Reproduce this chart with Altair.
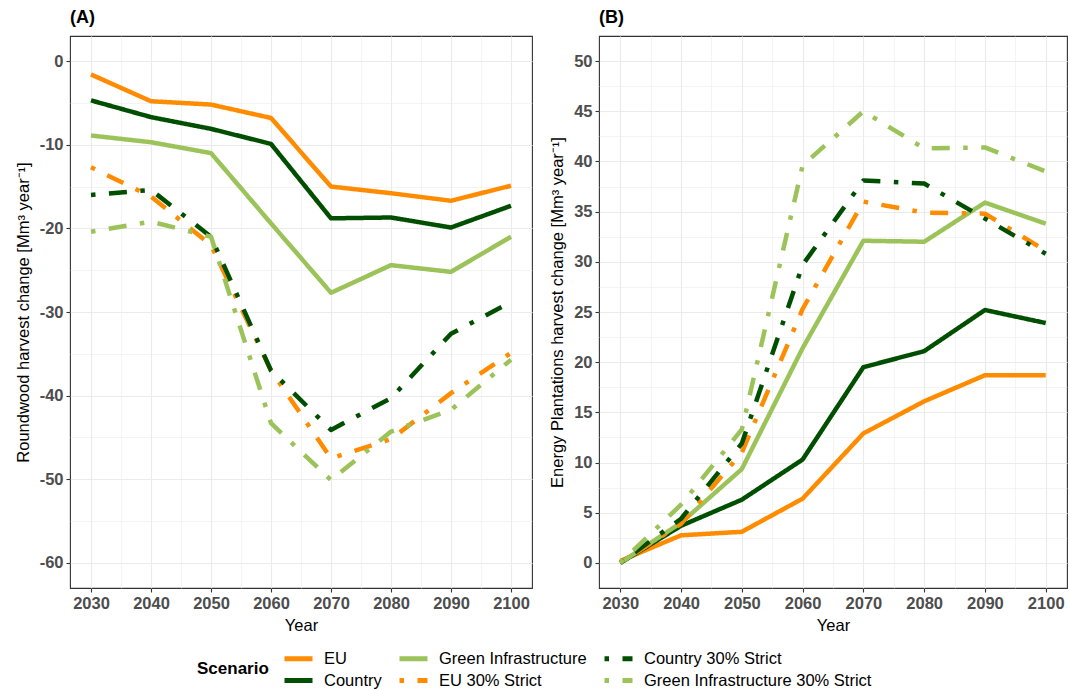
import altair as alt
import pandas as pd

years = [2030, 2040, 2050, 2060, 2070, 2080, 2090, 2100]

scenarios = ["EU", "Country", "Green Infrastructure",
             "EU 30% Strict", "Country 30% Strict", "Green Infrastructure 30% Strict"]

# Panel A: Roundwood harvest change
rw_eu = [-1.6, -4.8, -5.2, -6.8, -15.0, -15.8, -16.7, -14.9]
rw_country = [-4.7, -6.7, -8.1, -9.9, -18.8, -18.7, -19.9, -17.3]
rw_gi = [-8.9, -9.7, -11.0, -19.4, -27.7, -24.4, -25.2, -21.0]
rw_eu_strict = [-12.7, -16.2, -22.0, -37.0, -47.5, -45.2, -39.7, -34.9]
rw_country_strict = [-16.0, -15.4, -21.0, -37.0, -44.1, -40.3, -32.6, -28.8]
rw_gi_strict = [-20.4, -19.2, -21.0, -43.3, -50.1, -44.3, -41.7, -35.7]

# Panel B: Energy plantations harvest change
ep_eu = [0.2, 2.75, 3.1, 6.4, 12.9, 16.1, 18.7, 18.7]
ep_country = [0.0, 3.7, 6.3, 10.3, 19.5, 21.1, 25.2, 23.9]
ep_gi = [0.0, 4.0, 9.35, 21.4, 32.1, 32.0, 35.9, 33.8]
ep_eu_strict = [0.0, 3.9, 11.0, 25.3, 36.0, 34.9, 34.8, 31.1]
ep_country_strict = [0.0, 4.4, 11.9, 29.7, 38.1, 37.8, 34.3, 30.8]
ep_gi_strict = [0.0, 5.8, 13.3, 39.6, 45.0, 41.3, 41.4, 39.0]

colors = ["#FF8C00", "#004F00", "#9BC35A", "#FF8C00", "#004F00", "#9BC35A"]
solid = [1, 0]
dotdash = [4.5, 13.5, 18, 13.5]
dashes = [solid, solid, solid, dotdash, dotdash, dotdash]


def long_df(series):
    rows = []
    for i, (name, vals) in enumerate(zip(scenarios, series)):
        for y, v in zip(years, vals):
            rows.append({"Year": y, "Scenario": name, "value": v, "order": i})
    return pd.DataFrame(rows)


dfA = long_df([rw_eu, rw_country, rw_gi, rw_eu_strict, rw_country_strict, rw_gi_strict])
dfB = long_df([ep_eu, ep_country, ep_gi, ep_eu_strict, ep_country_strict, ep_gi_strict])


def cond(test, a, b):
    return {"condition": {"test": test, "value": a}, "value": b}


x_test = "datum.value % 10 == 0"
x_axis = alt.Axis(values=list(range(2030, 2101, 5)),
                  labelExpr="datum.value % 10 == 0 ? '' + datum.value : ''",
                  tickOpacity=cond(x_test, 1, 0), gridWidth=cond(x_test, 1.1, 0.55),
                  title="Year")

legend = alt.Legend(title="Scenario", orient="none", legendX=127, legendY=612,
                    columns=3, titleOrient="left", titleAnchor="middle",
                    titleBaseline="middle",
                    symbolType="M-1.75,0H1.75", symbolSize=256, symbolStrokeWidth=5,
                    labelFontSize=16.5, titleFontSize=17, titleFontWeight="bold",
                    titleColor="black", labelColor="black", labelLimit=400,
                    labelOffset=15, columnPadding=7, rowPadding=1,
                    titlePadding=19, symbolOffset=0)

color = alt.Color("Scenario:N", scale=alt.Scale(domain=scenarios, range=colors), legend=legend)
dash = alt.StrokeDash("Scenario:N", scale=alt.Scale(domain=scenarios, range=dashes), legend=legend)


def panel(df, ydomain, yvals, step, ytitle, label, w):
    t = f"abs(datum.value % {step}) < 0.001"
    return alt.Chart(df).mark_line(strokeWidth=4.5, strokeCap="butt", strokeJoin="round").encode(
        x=alt.X("Year:Q", scale=alt.Scale(domain=[2026.5, 2103.5], nice=False, zero=False), axis=x_axis),
        y=alt.Y("value:Q", scale=alt.Scale(domain=ydomain, nice=False, zero=False),
                axis=alt.Axis(values=yvals,
                              labelExpr=f"{t} ? '' + datum.value : ''",
                              tickOpacity=cond(t, 1, 0), gridWidth=cond(t, 1.1, 0.55),
                              title=ytitle)),
        color=color,
        strokeDash=dash,
        order=alt.Order("order:Q"),
    ).properties(
        width=w, height=552,
        title=alt.TitleParams(label, anchor="start", frame="group", fontSize=18,
                              fontWeight="bold", offset=9, color="black"),
    )


chartA = panel(dfA, [-63, 3], list(range(-60, 1, 5)), 10,
               "Roundwood harvest change [Mm³ year⁻¹]", "(A)", 462)
chartB = panel(dfB, [-2.5, 52.5], [v / 2 for v in range(0, 101, 5)], 5,
               "Energy Plantations harvest change [Mm³ year⁻¹]", "(B)", 468)

chart = alt.hconcat(chartA, chartB, spacing=16).resolve_scale(
    x="independent", y="independent", color="shared", strokeDash="shared"
).properties(
    padding={"left": 14, "top": 8, "right": 0, "bottom": 0},
    background="white",
).configure(
    font="Liberation Sans",
).configure_view(
    stroke="#333333", strokeWidth=1.1,
).configure_axis(
    labelFont="Liberation Sans", labelFontSize=16.5, labelFontWeight="bold", labelColor="#4D4D4D",
    titleFont="Liberation Sans", titleFontSize=16.5, titleFontWeight="normal", titleColor="black",
    gridColor="#EBEBEB", domain=False, tickColor="#333333", tickSize=4, tickWidth=1.1,
    labelPadding=3, titlePadding=6,
).configure_axisY(
    titlePadding=8,
)

chart.save("out.html", embed_options={"renderer": "svg", "actions": False})
